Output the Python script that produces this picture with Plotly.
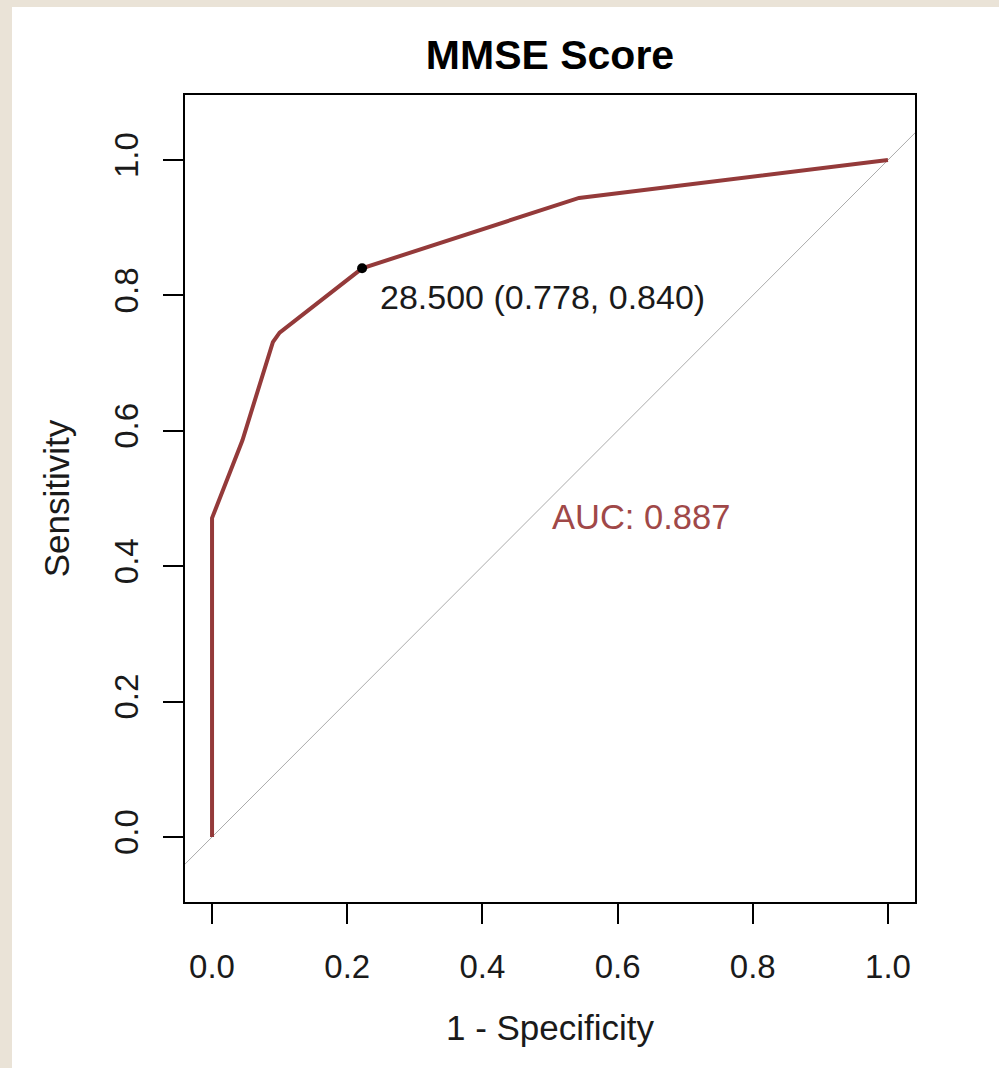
import plotly.graph_objects as go

# ROC curve (1 - specificity, sensitivity)
fpr = [0.0, 0.0, 0.045, 0.090, 0.10, 0.222, 0.543, 1.0]
tpr = [0.0, 0.471, 0.586, 0.731, 0.745, 0.840, 0.944, 1.0]
diag = [-0.1, 1.1]
thr_x = [0.222]
thr_y = [0.840]
thr_label = "28.500 (0.778, 0.840)"
auc_label = "AUC: 0.887"
tick_vals = [0.0, 0.2, 0.4, 0.6, 0.8, 1.0]
tick_text = ["0.0", "0.2", "0.4", "0.6", "0.8", "1.0"]

curve_col = "#943A3A"
font = "Liberation Sans, Arial, sans-serif"

fig = go.Figure()
fig.add_trace(go.Scatter(x=diag, y=diag, mode="lines",
                         line=dict(color="#ABABAB", width=1), hoverinfo="skip"))
fig.add_trace(go.Scatter(x=fpr, y=tpr, mode="lines",
                         line=dict(color=curve_col, width=4)))
fig.add_trace(go.Scatter(x=thr_x, y=thr_y, mode="markers",
                         marker=dict(color="black", size=10), cliponaxis=False))

fig.add_annotation(x=0.245, y=0.798, xref="x", yref="y", text=thr_label,
                   showarrow=False, xanchor="left", yanchor="middle",
                   font=dict(size=34, color="#1a1a1a", family=font))
fig.add_annotation(x=0.5, y=0.473, xref="x", yref="y", text=auc_label,
                   showarrow=False, xanchor="left", yanchor="middle",
                   font=dict(size=34.5, color="#A04848", family=font))

# beige border strips (left and top)
L, R, T, B = 185, 84, 95, 166
W, H = 999, 1068
pw, ph = W - L - R, H - T - B
def px2x(p): return (p - L) / pw
def py2y(p): return (H - B - p) / ph
bg = "#EAE3D7"
fig.add_shape(type="rect", xref="paper", yref="paper", x0=px2x(-5), x1=px2x(12),
              y0=py2y(H + 5), y1=py2y(-5), fillcolor=bg, line_width=0, layer="below")
fig.add_shape(type="rect", xref="paper", yref="paper", x0=px2x(-5), x1=px2x(W + 5),
              y0=py2y(7), y1=py2y(-5), fillcolor=bg, line_width=0, layer="below")

axis_common = dict(showline=True, mirror=True, linecolor="black", linewidth=2,
                   ticks="outside", ticklen=20, tickwidth=2, tickcolor="black",
                   showgrid=False, zeroline=False, tickvals=tick_vals, ticktext=tick_text,
                   tickfont=dict(size=33, color="#1a1a1a", family=font))

fig.update_layout(
    width=W, height=H,
    margin=dict(l=L, r=R, t=T, b=B),
    paper_bgcolor="white", plot_bgcolor="white",
    showlegend=False,
    title=dict(text="<b>MMSE Score</b>", x=550 / W, xanchor="center",
               y=1 - 55 / H, yanchor="middle",
               font=dict(size=41, color="black", family=font)),
    xaxis=dict(range=[-0.04, 1.04], ticklabelstandoff=14, **axis_common,
               title=dict(text="1 - Specificity", standoff=32,
                          font=dict(size=35, color="#1a1a1a", family=font))),
    yaxis=dict(range=[-0.096, 1.096], tickangle=-90, ticklabelstandoff=12, **axis_common,
               title=dict(text="Sensitivity", standoff=28,
                          font=dict(size=35, color="#1a1a1a", family=font))),
)

fig.write_html("out.html", config={"displayModeBar": False},
               post_script="document.body.style.margin='0px';document.body.style.padding='0px';")
